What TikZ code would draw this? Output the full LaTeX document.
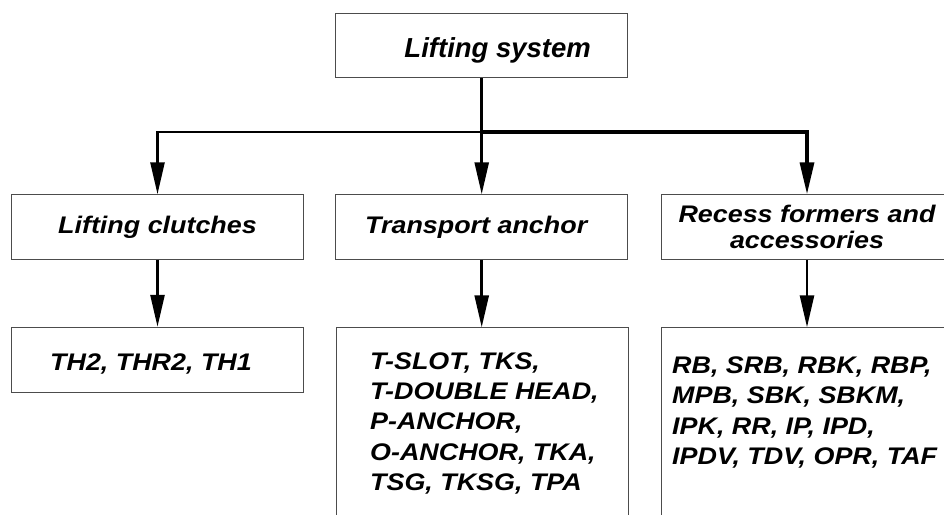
\documentclass[tikz,border=0pt]{standalone}
\usepackage{fontspec}
\setmainfont{Liberation Sans}
\newfontfamily\widefont[FakeStretch=1.12]{Liberation Sans}
\usetikzlibrary{arrows.meta}

\begin{document}
\begin{tikzpicture}[x=1pt, y=-1pt,
  box/.style={draw=black!70, line width=1pt, rectangle, minimum width=292pt, minimum height=64.5pt, inner sep=0pt, align=center, font=\widefont\bfseries\itshape\fontsize{24}{25.5}\selectfont},
  listbox/.style={box, anchor=north west, align=left, font=\widefont\bfseries\itshape\fontsize{24}{30.4}\selectfont},
  link/.style={line width=2.6pt},
  arr/.style={link, -{Triangle[length=32pt, width=14pt]}}]
  \useasboundingbox (0,0) rectangle (944,514);
  \clip (0,0) rectangle (944,514);
  % top level
  \node[box, text height=28pt, text depth=4pt, font=\bfseries\itshape\fontsize{27.5}{30}\selectfont] (sys) at (481.7,45.5) {\hspace*{32pt}Lifting system};
  % groups
  \node[box] (clutch) at (157.5,227) {Lifting clutches};
  \node[box] (anchor) at (481.7,227) {Transport anchor\hspace*{11pt}};
  \node[box] (recess) at (807,227) {Recess formers and\\accessories};
  % products
  \node[box, text height=22pt, text depth=0pt, minimum height=65pt] (th) at (157.5,359.8) {TH2, THR2, TH1\hspace*{13pt}};
  \node[listbox, inner xsep=17pt, inner ysep=24.5pt] (tlist) at (335.7,327.3) {\parbox[t][170pt][t]{258pt}{\raggedright\leftskip=17pt
    T-SLOT, TKS,\\ T-DOUBLE HEAD,\\ P-ANCHOR,\\ O-ANCHOR, TKA,\\ TSG, TKSG, TPA}};
  \node[listbox, inner xsep=11pt, inner ysep=29pt] (rlist) at (660.7,327.3) {\parbox[t][170pt][t]{270pt}{\raggedright
    RB, SRB, RBK, RBP,\\ MPB, SBK, SBKM,\\ IPK, RR, IP, IPD,\\ IPDV, TDV, OPR, TAF}};
  % connectors
  \draw[link] (sys.south) -- ++(0,53.7) coordinate (fork);
  \draw[arr] (fork) -| (clutch.north);
  \draw[arr] (fork) -- (anchor.north);
  \draw[arr, line width=3.4pt] (fork) -| (recess.north);
  \draw[arr] (clutch) -- (th);
  \draw[arr] (anchor.south) -- (anchor.south |- tlist.north);
  \draw[arr] (recess.south) -- (recess.south |- rlist.north);
\end{tikzpicture}
\end{document}
